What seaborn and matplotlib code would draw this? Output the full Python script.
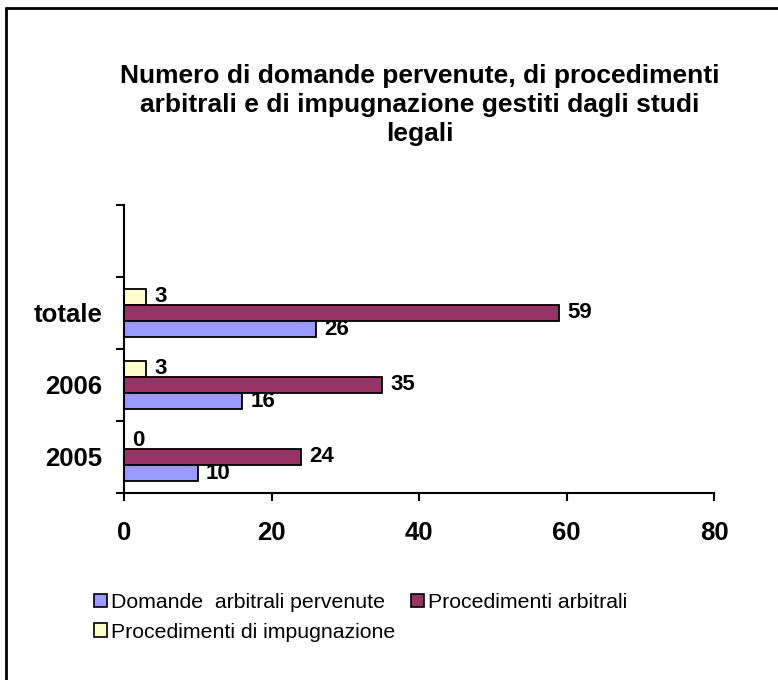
import pandas as pd
import matplotlib
matplotlib.use("Agg")
import matplotlib.pyplot as plt
from matplotlib.patches import Patch
from matplotlib.lines import Line2D
import seaborn as sns

# dati
anni = ["totale", "2006", "2005"]
domande = [26, 16, 10]
procedimenti = [59, 35, 24]
impugnazione = [3, 3, 0]

serie = ["Domande  arbitrali pervenute", "Procedimenti arbitrali", "Procedimenti di impugnazione"]
colori = {serie[0]: "#9999FF", serie[1]: "#993366", serie[2]: "#FFFFCC"}
x_ticks = [0, 20, 40, 60, 80]

df = pd.DataFrame({
    "anno": anni * 3,
    "valore": domande + procedimenti + impugnazione,
    "serie": [serie[0]] * 3 + [serie[1]] * 3 + [serie[2]] * 3,
})

sns.set_style("white")
plt.rcParams["font.family"] = ["Liberation Sans", "DejaVu Sans"]
plt.rcParams["text.color"] = "black"
plt.rcParams["xtick.color"] = "black"
plt.rcParams["ytick.color"] = "black"

fig = plt.figure(figsize=(7.78, 6.80), dpi=100)
ax = fig.add_axes([124 / 778, 1 - 493 / 680, 590 / 778, 288 / 680])

# ordine hue: dall'alto verso il basso dentro ogni gruppo
sns.barplot(data=df, x="valore", y="anno", hue="serie", order=anni,
            hue_order=[serie[2], serie[1], serie[0]], palette=colori,
            saturation=1, width=0.68, edgecolor="black", linewidth=1.3,
            orient="h", legend=False, errorbar=None, ax=ax)

for c in ax.containers:
    ax.bar_label(c, padding=6, fontsize=16, fontweight="bold", color="black")

ax.set_xlim(0, 80)
ax.set_ylim(2.5, -1.5)
ax.set_xticks(x_ticks)
ax.set_xticklabels([str(t) for t in x_ticks], fontsize=18.5, fontweight="bold")
ax.set_yticks(range(len(anni)))
ax.set_yticklabels(anni, fontsize=18.5, fontweight="bold")
ax.set_yticks([-1.5, -0.5, 0.5, 1.5, 2.5], minor=True)
ax.tick_params(axis="y", which="major", length=0, pad=15.5)
ax.tick_params(axis="y", which="minor", length=6, width=1.5, direction="out", color="black", left=True)
ax.tick_params(axis="x", length=6, width=1.5, direction="out", color="black", bottom=True, pad=14)
ax.set_xlabel("")
ax.set_ylabel("")
for s in ["top", "right"]:
    ax.spines[s].set_visible(False)
for s in ["left", "bottom"]:
    ax.spines[s].set_color("black")
    ax.spines[s].set_linewidth(1.5)

fig.text(420 / 778, 1 - 105 / 680,
         "Numero di domande pervenute, di procedimenti\narbitrali e di impugnazione gestiti dagli studi\nlegali",
         ha="center", va="center", fontsize=19, fontweight="bold", linespacing=1.28)

handles = [Patch(facecolor=colori[serie[0]], edgecolor="black", lw=1.2),
           Patch(facecolor=colori[serie[2]], edgecolor="black", lw=1.2),
           Patch(facecolor=colori[serie[1]], edgecolor="black", lw=1.2)]
labels = [serie[0], serie[2], serie[1]]
fig.legend(handles, labels, loc="upper left", bbox_to_anchor=(94 / 778, 1 - 593 / 680),
           ncol=2, frameon=False, fontsize=15.3, handlelength=0.6, handleheight=0.6,
           handletextpad=0.2, columnspacing=0.75, labelspacing=0.5, borderaxespad=0, borderpad=0)

# cornice (solo bordo superiore e sinistro visibili)
fig.add_artist(Line2D([6 / 778, 6 / 778], [0, 1 - 8 / 680], transform=fig.transFigure, color="black", lw=2))
fig.add_artist(Line2D([6 / 778, 1], [1 - 8 / 680, 1 - 8 / 680], transform=fig.transFigure, color="black", lw=2))

fig.savefig("out.png", dpi=100, facecolor="white")
